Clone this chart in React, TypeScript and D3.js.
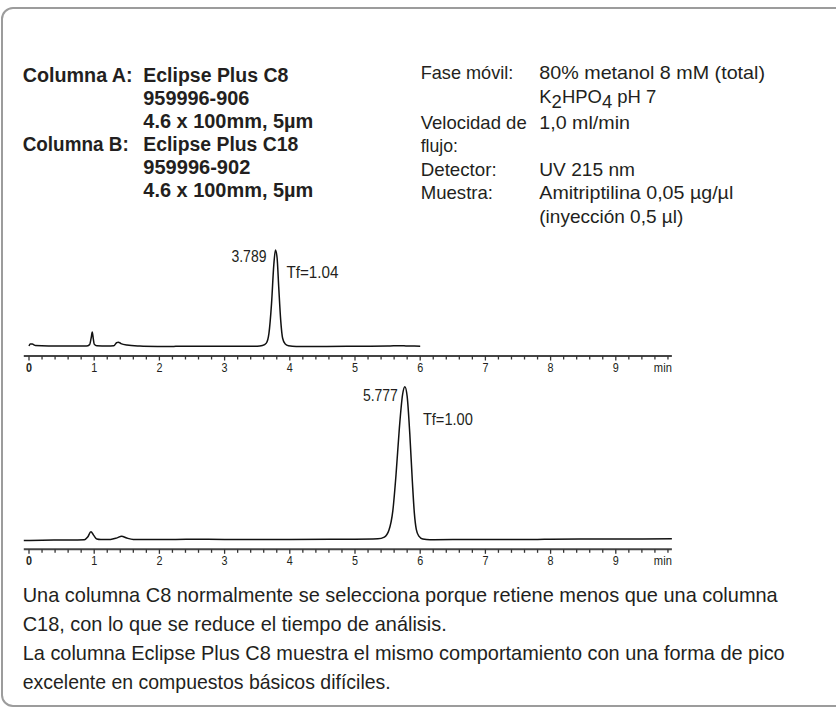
import React from "react";
import * as d3 from "d3";

// ---------- data ----------
const headerLeftLabels = ["Columna A:", "", "", "Columna B:", "", ""];
const headerLeftValues = [
  "Eclipse Plus C8",
  "959996-906",
  "4.6 x 100mm, 5µm",
  "Eclipse Plus C18",
  "959996-902",
  "4.6 x 100mm, 5µm",
];
const headerRightLabels = ["Fase móvil:", "", "Velocidad de", "flujo:", "Detector:", "Muestra:", ""];
const headerRightValues = [
  "80% metanol 8 mM (total)",
  "K2HPO4 pH 7",
  "1,0 ml/min",
  "",
  "UV 215 nm",
  "Amitriptilina 0,05 µg/µl",
  "(inyección 0,5 µl)",
];
const paragraphLines = [
  "Una columna C8 normalmente se selecciona porque retiene menos que una columna",
  "C18, con lo que se reduce el tiempo de análisis.",
  "La columna Eclipse Plus C8 muestra el mismo comportamiento con una forma de pico",
  "excelente en compuestos básicos difíciles.",
];
const tickLabels = ["0", "1", "2", "3", "4", "5", "6", "7", "8", "9"];
const unitLabel = "min";

// Column A chromatogram (time min, signal)
const traceA: [number, number][] = [
  [0.0, 1], [0.02, 3], [0.05, 3], [0.1, 1.6], [0.3, 1.1], [0.6, 1], [0.88, 1],
  [0.93, 2.5], [0.955, 10], [0.97, 15.5], [0.985, 9], [1.0, 3], [1.04, 1.2],
  [1.2, 1], [1.3, 1.3], [1.345, 4.5], [1.37, 5], [1.41, 3.5], [1.5, 2], [1.7, 1],
  [2.0, 0.5], [2.2, 0.4], [2.3, 0.9], [2.45, 0.7], [2.5, 0.9], [3.0, 0.7], [3.5, 0.8],
  [3.58, 1.5], [3.64, 4], [3.68, 14], [3.72, 45], [3.755, 85], [3.78, 100],
  [3.805, 92], [3.83, 62], [3.86, 28], [3.89, 9], [3.93, 3], [3.98, 1.3], [4.1, 0.6],
  [4.5, 0.5], [5.0, 0.8], [5.5, 1.0], [5.7, 1.4], [5.8, 1.0], [6.0, 0.9],
];
// Column B chromatogram (time min, signal)
const traceB: [number, number][] = [
  [-0.08, -0.6], [0.2, -0.2], [0.5, 0], [0.85, 0.3], [0.9, 3], [0.95, 8.5],
  [0.99, 5], [1.04, 1], [1.1, 0.5], [1.25, 0.6], [1.35, 2.2], [1.42, 3.8],
  [1.5, 2], [1.6, 0.6], [2.0, 0.5], [2.5, 0.7], [3.0, 0.6], [4.0, 0.6],
  [5.0, 0.8], [5.35, 1.2], [5.45, 3], [5.52, 10], [5.58, 30], [5.63, 68],
  [5.68, 115], [5.73, 150], [5.765, 158], [5.8, 148], [5.84, 110], [5.88, 60],
  [5.91, 28], [5.94, 11], [5.98, 4], [6.04, 1], [6.15, 0.2], [6.5, 0.4],
  [7.0, 0.5], [7.8, 0.6], [8.0, 0.8], [9.0, 1.0], [9.86, 1.3],
];
const peakA = { time: 3.78, signal: 100, label: "3.789", tf: "Tf=1.04" };
const peakB = { time: 5.765, signal: 158, label: "5.777", tf: "Tf=1.00" };

// ---------- layout ----------
const W = 836;
const H = 708;
const FONT = "'Liberation Sans', Arial, sans-serif";
const TXT = "#231f20";

const x = d3.scaleLinear().domain([0, 10]).range([29, 681]);
const yA = d3.scaleLinear().domain([0, 100]).range([347, 250]);
const yB = d3.scaleLinear().domain([0, 100]).range([540, 443]);

const lineA = d3.line<[number, number]>().x((d) => x(d[0])).y((d) => yA(d[1])).curve(d3.curveMonotoneX);
const lineB = d3.line<[number, number]>().x((d) => x(d[0])).y((d) => yB(d[1])).curve(d3.curveMonotoneX);

type TP = {
  x: number;
  y: number;
  w?: number;
  size: number;
  bold?: boolean;
  anchor?: "start" | "middle" | "end";
  children: React.ReactNode;
};
function T({ x, y, w, size, bold, anchor, children }: TP) {
  return (
    <text
      x={x}
      y={y}
      fontSize={size}
      fontFamily={FONT}
      fontWeight={bold ? 700 : 400}
      fill={TXT}
      textAnchor={anchor || "start"}
      textLength={w}
      lengthAdjust={w ? "spacingAndGlyphs" : undefined}
    >
      {children}
    </text>
  );
}

function Axis({ y }: { y: number }) {
  const minor = d3.range(0, 50).map((i) => i * 0.2);
  return (
    <g>
      <line x1={x(-0.08)} x2={x(9.86)} y1={y} y2={y} stroke="#444" strokeWidth={2} />
      {minor.map((t, i) => (
        <line key={i} x1={x(t)} x2={x(t)} y1={y} y2={y + (i % 5 === 0 ? 4.5 : 3.5)} stroke="#333" strokeWidth={1.3} />
      ))}
      {tickLabels.map((l, i) => (
        <T key={l} x={x(i)} y={y + 16} size={12.5} anchor="middle" w={6} bold={i === 0}>
          {l}
        </T>
      ))}
      <T x={x(9.86)} y={y + 16} size={12.5} anchor="end" w={18}>
        {unitLabel}
      </T>
    </g>
  );
}

export default function App() {
  const leftY = [82, 105, 128, 151, 174, 197];
  const rightY = [79, 103, 129, 152, 176, 199, 223];
  const leftLabelW = [110, 0, 0, 106, 0, 0];
  const leftValueW = [145, 106, 170, 155, 107, 170];
  const rightLabelW = [92.6, 0, 106, 37.3, 76, 72.3, 0];
  const rightValueW = [225.7, 117, 90.7, 0, 95.7, 194, 144];
  const paraY = [602, 631, 660, 689];
  const paraW = [755, 424, 762, 368];
  return (
    <svg width={W} height={H} style={{ position: "absolute", left: 0, top: 0, background: "#fff" }}>
      <rect x={2} y={8} width={850} height={698} rx={11} ry={11} fill="none" stroke="#9c9c9c" strokeWidth={2} />

      {headerLeftLabels.map((l, i) =>
        l ? (
          <T key={"ll" + i} x={22.7} y={leftY[i]} size={20} bold w={leftLabelW[i]}>
            {l}
          </T>
        ) : null
      )}
      {headerLeftValues.map((v, i) => (
        <T key={"lv" + i} x={143.3} y={leftY[i]} size={20} bold w={leftValueW[i]}>
          {v}
        </T>
      ))}

      {headerRightLabels.map((l, i) =>
        l ? (
          <T key={"rl" + i} x={420.7} y={rightY[i]} size={18.5} w={rightLabelW[i]}>
            {l}
          </T>
        ) : null
      )}
      {headerRightValues.map((v, i) =>
        v === "K2HPO4 pH 7" ? (
          <text key={"rv" + i} x={539.3} y={rightY[i]} fontSize={18.5} fontFamily={FONT} fill={TXT} textLength={rightValueW[i]} lengthAdjust="spacingAndGlyphs">
            K<tspan dy={5}>2</tspan>
            <tspan dy={-5}>HPO</tspan>
            <tspan dy={5}>4</tspan>
            <tspan dy={-5}> pH 7</tspan>
          </text>
        ) : v ? (
          <T key={"rv" + i} x={539.3} y={rightY[i]} size={18.5} w={rightValueW[i]}>
            {v}
          </T>
        ) : null
      )}

      <path d={lineA(traceA) || ""} fill="none" stroke="#111" strokeWidth={1.5} strokeLinejoin="round" />
      <path d={lineB(traceB) || ""} fill="none" stroke="#111" strokeWidth={1.5} strokeLinejoin="round" />

      <T x={x(peakA.time) - 9} y={yA(peakA.signal) + 12} size={16} anchor="end" w={35}>
        {peakA.label}
      </T>
      <T x={x(peakA.time) + 11} y={yA(peakA.signal) + 28} size={16} w={52}>
        {peakA.tf}
      </T>
      <T x={x(peakB.time) - 7} y={yB(peakB.signal) + 14} size={16} anchor="end" w={35}>
        {peakB.label}
      </T>
      <T x={x(peakB.time) + 18} y={yB(peakB.signal) + 38} size={16} w={50}>
        {peakB.tf}
      </T>

      <Axis y={356} />
      <Axis y={549.3} />

      {paragraphLines.map((p, i) => (
        <T key={"p" + i} x={22.7} y={paraY[i]} size={21} w={paraW[i]}>
          {p}
        </T>
      ))}
    </svg>
  );
}
